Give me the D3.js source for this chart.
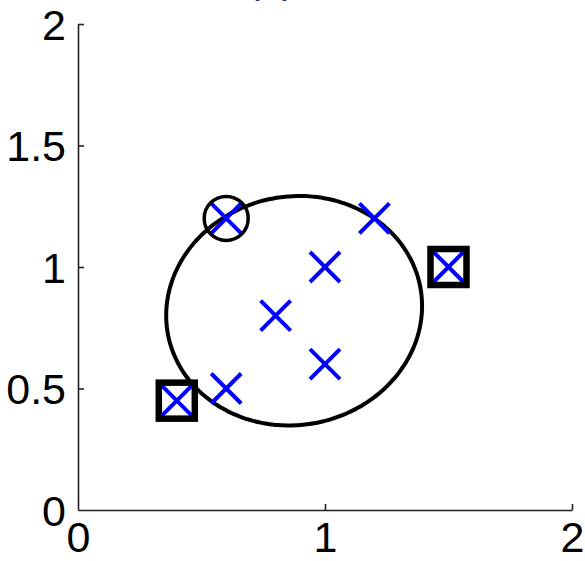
<!DOCTYPE html>
<html>
<head>
<meta charset="utf-8">
<script src="https://cdn.jsdelivr.net/npm/d3@7"></script>
<style>
  html, body { margin: 0; padding: 0; background: #fff; }
  svg { display: block; }
  text { font-family: "Liberation Sans", Arial, sans-serif; }
</style>
</head>
<body>
<div id="chart"></div>
<script>
// Sample points
const pointsX = [0.4, 0.6, 0.6, 0.8, 1.0, 1.0, 1.2, 1.5];
const pointsY = [0.45, 0.5, 1.2, 0.8, 1.0, 0.6, 1.2, 1.0];

// Highlighted points: squares (outliers) and a circle
const squareX = [0.4, 1.5];
const squareY = [0.45, 1.0];
const circleX = [0.6];
const circleY = [1.2];

// Ellipse parameters (data units): center, semi-axes, rotation in degrees
const ellipseCenter = [0.875, 0.82];
const ellipseRadii = [0.52, 0.47];
const ellipseAngle = [12];

// Axis ticks
const xTicks = [0, 1, 2];
const yTicks = [0, 0.5, 1, 1.5, 2];
const titleText = ["(a)"];

const W = 585, H = 561;
const mLeft = 78, mRight = 572, mTop = 24, mBottom = 510;

const svg = d3.select("#chart").append("svg")
  .attr("width", W).attr("height", H);

const x = d3.scaleLinear().domain([0, 2]).range([mLeft, mRight]);
const y = d3.scaleLinear().domain([0, 2]).range([mBottom, mTop]);

// Title, mostly above the visible frame
svg.append("text")
  .attr("x", 271).attr("y", -7.5)
  .attr("text-anchor", "middle")
  .attr("font-size", 40)
  .attr("fill", "#2a2a6a")
  .text(titleText[0]);

// Axes (MATLAB-style inward ticks, no box)
const xAxis = d3.axisBottom(x).tickValues(xTicks).tickFormat(d3.format("d"))
  .tickSizeInner(-6).tickSizeOuter(0).tickPadding(11);
const yAxis = d3.axisLeft(y).tickValues(yTicks).tickFormat(d => d3.format("")(d))
  .tickSizeInner(-6).tickSizeOuter(0).tickPadding(12);

const gx = svg.append("g").attr("transform", `translate(0,${mBottom})`).call(xAxis);
const gy = svg.append("g").attr("transform", `translate(${mLeft},0)`).call(yAxis);

[gx, gy].forEach(g => {
  g.select(".domain").attr("stroke", "#222").attr("stroke-width", 1.6);
  g.selectAll(".tick line").attr("stroke", "#222").attr("stroke-width", 1.6);
  g.selectAll(".tick text")
    .attr("font-size", 43)
    .attr("fill", "#000")
    .attr("font-family", "'Liberation Sans', Arial, sans-serif");
});
gx.selectAll(".tick text").attr("dy", "0.71em");
gy.selectAll(".tick text").attr("dy", "0.36em");
// hide the tick mark at the origin on each axis
gx.selectAll(".tick").filter(d => d === 0).select("line").remove();
gy.selectAll(".tick").filter(d => d === 0).select("line").remove();

// Ellipse contour computed from its parameters
const th = ellipseAngle[0] * Math.PI / 180;
const ellipsePts = d3.range(0, 360, 2).map(deg => {
  const t = deg * Math.PI / 180;
  const ex = ellipseRadii[0] * Math.cos(t), ey = ellipseRadii[1] * Math.sin(t);
  return [ellipseCenter[0] + ex * Math.cos(th) - ey * Math.sin(th),
          ellipseCenter[1] + ex * Math.sin(th) + ey * Math.cos(th)];
});
svg.append("path")
  .datum(ellipsePts)
  .attr("d", d3.line().x(d => x(d[0])).y(d => y(d[1])).curve(d3.curveCardinalClosed))
  .attr("fill", "none")
  .attr("stroke", "#000")
  .attr("stroke-width", 4);

// Blue cross markers
const arm = 15;
const pts = pointsX.map((v, i) => [v, pointsY[i]]);
svg.append("g").selectAll("path.cross").data(pts).join("path")
  .attr("class", "cross")
  .attr("d", d => {
    const cx = x(d[0]), cy = y(d[1]);
    return `M${cx - arm},${cy - arm}L${cx + arm},${cy + arm}M${cx - arm},${cy + arm}L${cx + arm},${cy - arm}`;
  })
  .attr("stroke", "#0000ff")
  .attr("stroke-width", 4)
  .attr("fill", "none");

// Square highlights
const sq = 36;
svg.append("g").selectAll("rect").data(squareX.map((v, i) => [v, squareY[i]])).join("rect")
  .attr("x", d => x(d[0]) - sq / 2)
  .attr("y", d => y(d[1]) - sq / 2)
  .attr("width", sq).attr("height", sq)
  .attr("fill", "none")
  .attr("stroke", "#000")
  .attr("stroke-width", 6.5);

// Circle highlight
svg.append("g").selectAll("circle").data(circleX.map((v, i) => [v, circleY[i]])).join("circle")
  .attr("cx", d => x(d[0]))
  .attr("cy", d => y(d[1]))
  .attr("r", 22)
  .attr("fill", "none")
  .attr("stroke", "#000")
  .attr("stroke-width", 3.5);
</script>
</body>
</html>
